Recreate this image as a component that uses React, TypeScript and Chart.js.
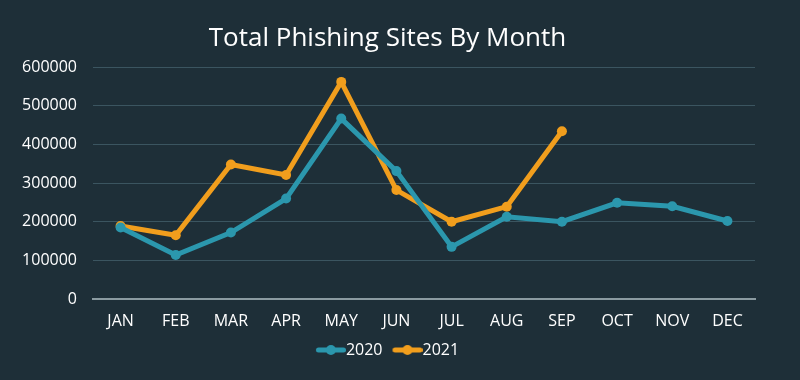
import React, { useEffect, useRef } from "react";
import { Chart, registerables } from "chart.js";

Chart.register(...registerables);

const months = ["JAN", "FEB", "MAR", "APR", "MAY", "JUN", "JUL", "AUG", "SEP", "OCT", "NOV", "DEC"];
const sites2020 = [185000, 114000, 172000, 260000, 467000, 331000, 135000, 213000, 200000, 249000, 240000, 202000];
const sites2021 = [189000, 165000, 348000, 321000, 562000, 282000, 200000, 239000, 434000, null, null, null];
const yTicks = [0, 100000, 200000, 300000, 400000, 500000, 600000];

const BG = "#1e2f38";
const BLUE = "#2b97ad";
const ORANGE = "#f19e1d";
const FONT = "'Open Sans', sans-serif";

// Legend icon: line with a dot, drawn so that it ends right where the label text starts.
function legendIcon(color: string): HTMLCanvasElement {
  const c = document.createElement("canvas");
  c.width = 38;
  c.height = 12;
  const ctx = c.getContext("2d")!;
  ctx.strokeStyle = color;
  ctx.lineWidth = 5;
  ctx.lineCap = "round";
  ctx.beginPath();
  ctx.moveTo(10.5, 6);
  ctx.lineTo(35.5, 6);
  ctx.stroke();
  ctx.fillStyle = color;
  ctx.beginPath();
  ctx.arc(23, 6, 5, 0, Math.PI * 2);
  ctx.fill();
  return c;
}

const bgPlugin = {
  id: "bg",
  beforeDraw(chart: any) {
    const { ctx, width, height } = chart;
    ctx.save();
    ctx.fillStyle = BG;
    ctx.fillRect(0, 0, width, height);
    ctx.restore();
  },
};

export default function App() {
  const ref = useRef<HTMLCanvasElement>(null);
  useEffect(() => {
    const icons = [legendIcon(BLUE), legendIcon(ORANGE)];
    const chart = new Chart(ref.current!, {
      type: "line",
      data: {
        labels: months,
        datasets: [
          {
            label: "2020",
            data: sites2020,
            borderColor: BLUE,
            backgroundColor: BLUE,
            borderWidth: 5,
            pointRadius: 5,
            pointHoverRadius: 5,
            pointBackgroundColor: BLUE,
            pointBorderWidth: 0,
            tension: 0,
          },
          {
            label: "2021",
            data: sites2021,
            borderColor: ORANGE,
            backgroundColor: ORANGE,
            borderWidth: 5,
            pointRadius: 5,
            pointHoverRadius: 5,
            pointBackgroundColor: ORANGE,
            pointBorderWidth: 0,
            tension: 0,
          },
        ],
      },
      options: {
        animation: false,
        responsive: false,
        layout: { padding: { left: 20, right: 45, top: 10, bottom: 12 } },
        plugins: {
          title: {
            display: true,
            text: "Total Phishing Sites By Month",
            color: "#ffffff",
            font: { family: FONT, size: 26, weight: "normal" },
            padding: { top: 13, bottom: 13 },
          },
          legend: {
            position: "bottom",
            labels: {
              color: "#ffffff",
              font: { family: FONT, size: 16 },
              usePointStyle: true,
              pointStyleWidth: 22,
              padding: 10,
              generateLabels: (ch: any) =>
                ch.data.datasets.map((d: any, i: number) => ({
                  text: d.label,
                  fontColor: "#ffffff",
                  pointStyle: icons[i],
                  datasetIndex: i,
                  hidden: false,
                  lineWidth: 0,
                  strokeStyle: "transparent",
                  fillStyle: d.borderColor,
                })),
            },
          },
          tooltip: { enabled: false },
        },
        scales: {
          x: {
            offset: true,
            afterFit: (axis: any) => {
              axis.height = 33;
            },
            grid: { display: false, drawTicks: false },
            border: { display: true, color: "#8b9ba1", width: 2 },
            ticks: { color: "#ffffff", font: { family: FONT, size: 16 }, padding: 13 },
          },
          y: {
            min: 0,
            max: 600000,
            afterFit: (axis: any) => {
              axis.width = 73;
            },
            afterBuildTicks: (axis: any) => {
              axis.ticks = yTicks.map((v) => ({ value: v }));
            },
            grid: { color: "#3b5560", lineWidth: 1, drawTicks: false },
            border: { display: false },
            ticks: {
              color: "#ffffff",
              font: { family: FONT, size: 16 },
              padding: 16,
              callback: (v: any) => String(v),
            },
          },
        },
      },
      plugins: [bgPlugin],
    });
    return () => chart.destroy();
  }, []);
  return (
    <div style={{ position: "fixed", left: 0, top: 0, width: 800, height: 380, background: BG }}>
      <canvas ref={ref} width={800} height={380} />
    </div>
  );
}
